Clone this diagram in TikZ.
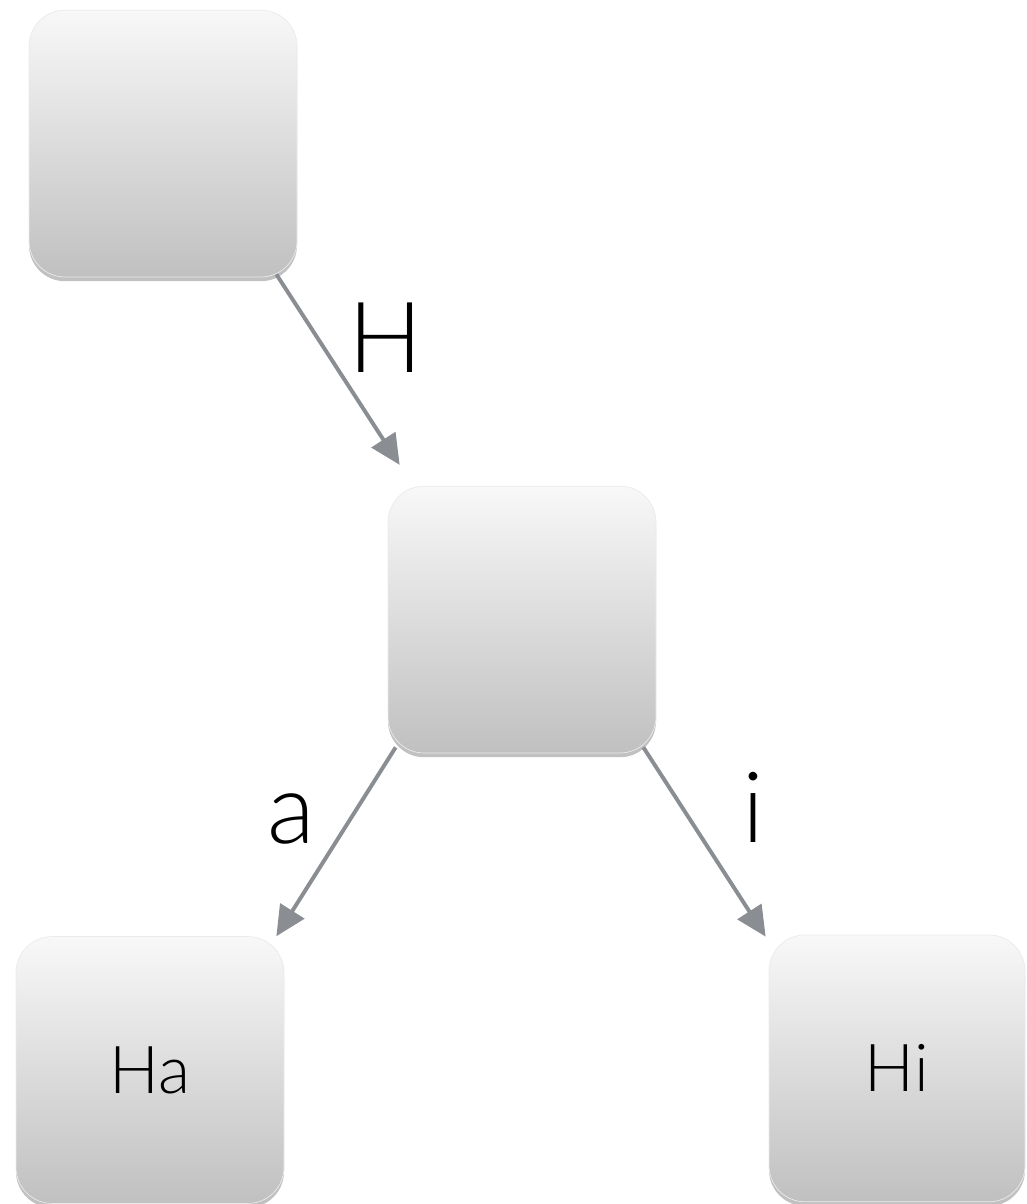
\documentclass[tikz,border=0pt]{standalone}
\usepackage{fontspec}
\setmainfont{Lato}[UprightFont={* Light}]
\usetikzlibrary{arrows.meta,shadows}
\definecolor{arrowgray}{RGB}{138,141,145}
\definecolor{boxtop}{RGB}{248,248,248}
\definecolor{boxbottom}{RGB}{192,192,192}

\begin{document}
\begin{tikzpicture}[>={Triangle[length=0.75cm,width=0.7cm]},
       link/.style={->,draw=arrowgray,line width=2.8pt},
       label text/.style={font=\fontsize{70}{70}\selectfont,inner sep=0pt},
       main node/.style={rounded corners=0.9cm,minimum width=6.7cm,minimum height=6.67cm,
         top color=boxtop,bottom color=boxbottom,draw=black!8,line width=0.5pt,
         drop shadow={shadow xshift=0pt,shadow yshift=-3pt,opacity=0.35,fill=black!70},
         font=\fontsize{47}{47}\selectfont}]

      \useasboundingbox (0,0) rectangle (25.65,30.1);

      \node[main node] at (4.075,26.51) (root) {};
      \node[main node] at (13.05,14.61) (h) {};
      \node[main node] at (3.75,3.35) (ha) {Ha};
      \node[main node,minimum width=6.4cm] at (22.425,3.39) (hi) {Hi};

      \path
      ([shift={(-0.525,0.075)}]root.south east) edge [link]
        node[label text,midway,xshift=1.19cm,yshift=0.79cm] {H}
        ([shift={(0.3,0.525)}]h.north west)
      ;
      \path
      ([shift={(0.2,0.15)}]h.south west) edge [link]
        node[label text,midway,xshift=-1.125cm,yshift=0.56cm] {a}
        ([shift={(-0.2,0)}]ha.north east)
      ([shift={(-0.325,0.15)}]h.south east) edge [link]
        node[label text,midway,xshift=1.225cm,yshift=0.86cm] {i}
        ([shift={(-0.075,-0.05)}]hi.north west)
      ;

    \end{tikzpicture}
\end{document}
